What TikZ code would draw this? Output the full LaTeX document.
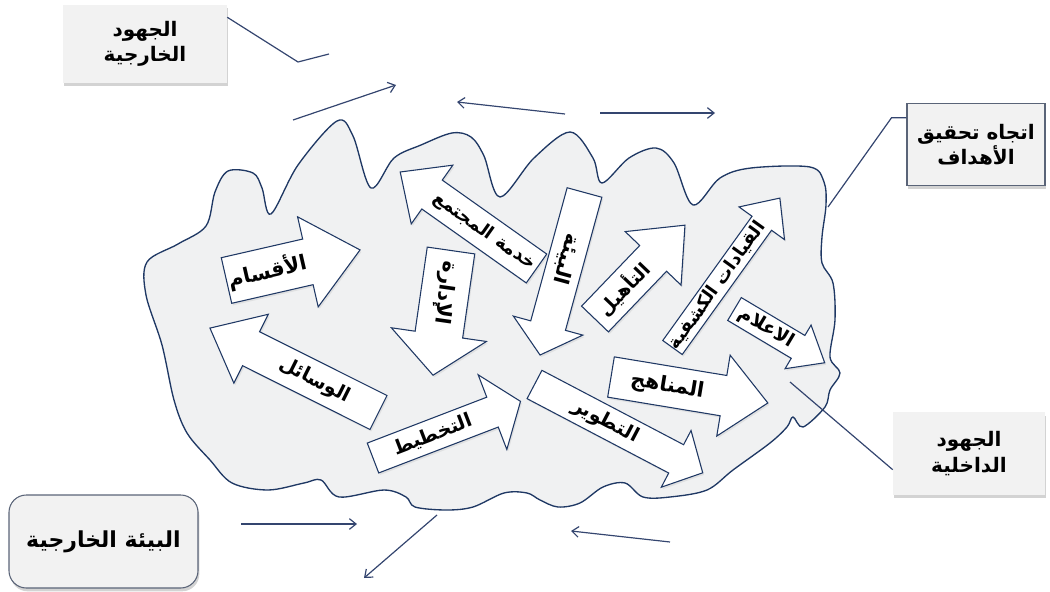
\documentclass[tikz,border=0pt]{standalone}
\usepackage{fontspec}
\usetikzlibrary{arrows.meta,shadows}
\TeXXeTstate=1
\newfontfamily\arabicfont[Script=Arabic]{DejaVu Sans}
\definecolor{edge}{HTML}{1F3864}
\definecolor{thin}{HTML}{34456F}
\definecolor{cloud}{HTML}{F0F1F2}
\definecolor{boxg}{HTML}{F2F2F2}
\definecolor{boxb}{HTML}{5A6478}
\newcommand{\artx}{\arabicfont\bfseries}
\tikzset{
  lbl/.style={fill=boxg, align=center, font=\fontsize{15}{19}\selectfont\artx,
    drop shadow={shadow xshift=1pt, shadow yshift=-2.5pt, opacity=.35}},
  con/.style={draw=thin, line width=0.9pt},
  thinarr/.style={con, -{Straight Barb[length=5pt, width=8pt]}},
  blkline/.style={draw=edge, line width=0.8pt, fill=white, line join=miter,
    drop shadow={shadow xshift=1pt, shadow yshift=-1.5pt, opacity=.15}},
  blktxt/.style={inner sep=0pt, font=\fontsize{15.5}{17}\selectfont\artx},
  small/.style={font=\fontsize{13.5}{15}\selectfont\artx}}
% block arrow: [text turn]{tail}{angle}{length}{head base}{half body}{half head}{name}{text}
\newcommand{\blk}[9][0]{%
  \begin{scope}[shift={(#2)}, rotate=#3]
    \draw[blkline] (0,-#6) -- (#5,-#6) -- (#5,-#7) -- (#4,0) -- (#5,#7) -- (#5,#6) -- (0,#6) -- cycle;
    \node[blktxt, transform shape, rotate=#1] (#8) at (#5/2,0) {#9};
  \end{scope}}

\begin{document}
\begin{tikzpicture}[x=0.75pt, y=-0.75pt]
\useasboundingbox (0,0) rectangle (1050,592);
\draw[draw=edge, line width=1pt, fill=cloud] plot[smooth cycle, tension=0.55] coordinates {
  (147,262) (178,244) (206,226) (215,192) (228,171) (253,173) (262,188) (271,214)
  (298,165) (337,121) (353,136) (371,188) (394,158) (421,145) (452,133) (471,137)
  (484,156) (500,197) (534,158) (570,132) (593,158) (602,183) (629,158) (656,148)
  (674,163) (693,205) (720,178) (751,168) (810,167) (824,182) (826,205) (822,237)
  (822,263) (833,283) (835,320) (830,357) (840,373) (830,390) (825,407) (803,427)
  (793,417) (787,427) (770,443) (733,470) (707,490) (670,497) (643,497) (625,483)
  (603,487) (580,503) (558,507) (540,500) (527,493) (504,493) (473,507) (446,510)
  (415,507) (406,497) (384,490) (339,497) (321,480) (304,483) (268,490) (232,483)
  (210,460) (187,433) (174,400) (162,345) (146,295)};

\blk{226.5,280.5}{12.9}{137}{83.5}{23.4}{46.2}{aqsam}{\beginR الأقسام\endR}
\blk[180]{378.5,412.5}{153.4}{188.5}{142.5}{19}{38.5}{wasail}{\fontsize{14.5}{16}\selectfont\beginR الوسائل\endR}
\blk[180]{536.5,268.5}{144.7}{167}{128}{17.7}{36}{khidma}{\fontsize{13.5}{15}\selectfont\beginR خدمة المجتمع\endR}
\blk{451,250.5}{-98.2}{126}{85}{24}{48}{idara}{\beginR الإدارة\endR}
\blk{584.5,192.5}{-105.3}{168.5}{138}{18}{36}{bia}{\beginR البيئة\endR}
\blk{595,319}{46.2}{130}{84}{18.6}{38.7}{taahil}{\fontsize{14}{15}\selectfont\beginR التأهيل\endR}
\blk{672.5,347.5}{54.3}{184}{153}{12}{28}{qiyadat}{\fontsize{13.5}{15}\selectfont\beginR القيادات الكشفية\endR}
\blk{734.5,309}{-30.8}{105}{74}{13.3}{25.4}{ilam}{\fontsize{14}{15}\selectfont\beginR الاعلام\endR}
\blk{611,377}{-9.4}{159}{114}{20.4}{41}{manahij}{\beginR المناهج\endR}
\blk{534.5,384.5}{-27.7}{190}{160}{16}{32}{tatwir}{\fontsize{14.5}{16}\selectfont\beginR التطوير\endR}
\blk{373,458}{21}{158}{128}{16}{40}{takhtit}{\fontsize{14.5}{16}\selectfont\beginR التخطيط\endR}

\node[lbl, minimum width=123pt, minimum height=58.5pt] (ext) at (145,44) {\beginR الجهود\endR\\\beginR الخارجية\endR};
\node[lbl, draw=boxb, line width=0.8pt, minimum width=103.5pt, minimum height=62pt] (goal) at (976,144.5) {\beginR اتجاه تحقيق\endR\\\beginR الأهداف\endR};
\node[lbl, minimum width=114pt, minimum height=62pt] (int) at (969,453.5) {\beginR الجهود\endR\\\beginR الداخلية\endR};
\node[lbl, draw=boxb, line width=0.8pt, rounded corners=13pt, minimum width=141.75pt, minimum height=69.75pt,
  font=\fontsize{16.5}{20}\selectfont\artx] (env) at (103.5,541.5) {\beginR البيئة الخارجية\endR};

\coordinate (c1) at (329,54);
\coordinate (c2) at (828,207);
\coordinate (c3) at (790,382);
\draw[con] (ext.18) -- (298,62) -- (c1);
\draw[con] (goal.159) -- ++(-15,0) -- (c2);
\draw[con] (int.192) -- (c3);

\draw[thinarr] (293,120) -- (396,85);
\draw[thinarr] (565,114) -- (457,102);
\draw[thinarr] (600,113) -- (715,113);
\draw[thinarr] (241,524) -- (357,524);
\draw[thinarr] (437,515) -- (364,578);
\draw[thinarr] (670,542) -- (571,531);
\end{tikzpicture}
\end{document}
